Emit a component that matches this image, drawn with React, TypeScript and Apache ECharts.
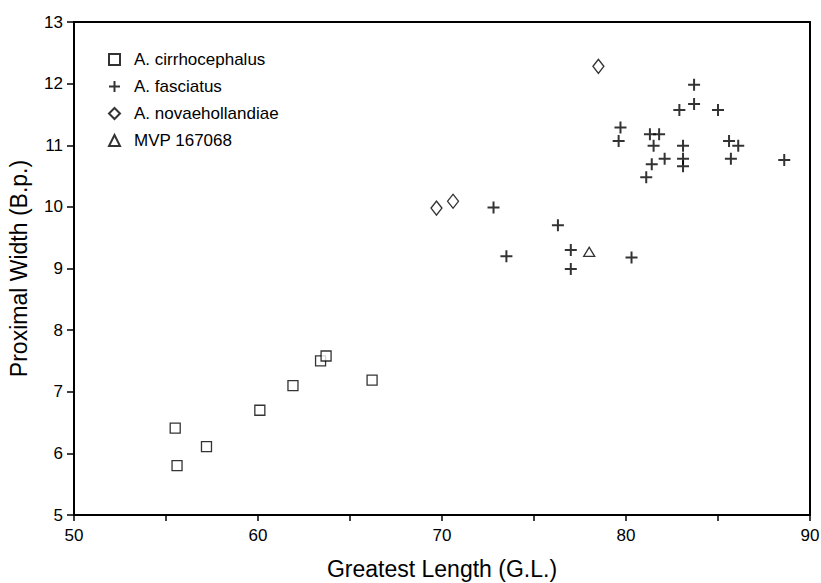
import React, { useEffect, useRef } from "react";
import * as echarts from "echarts";

const xTicks = [50, 55, 60, 65, 70, 75, 80, 85, 90];
const yTicks = [5, 6, 7, 8, 9, 10, 11, 12, 13];

const seriesNames = ["A. cirrhocephalus", "A. fasciatus", "A. novaehollandiae", "MVP 167068"];

const cirrhoX = [55.5, 55.6, 57.2, 60.1, 61.9, 63.4, 63.7, 66.2];
const cirrhoY = [6.41, 5.8, 6.11, 6.7, 7.1, 7.5, 7.58, 7.19];

const fasciatusX = [83.7, 83.7, 82.9, 85.0, 79.7, 79.6, 81.3, 81.8, 81.5, 83.1, 85.6, 86.1, 82.1, 83.1, 83.1, 81.4, 81.1, 85.7, 88.6, 72.8, 76.3, 77.0, 77.0, 73.5, 80.3];
const fasciatusY = [11.98, 11.67, 11.57, 11.57, 11.29, 11.07, 11.18, 11.18, 10.99, 10.99, 11.07, 10.99, 10.78, 10.78, 10.66, 10.69, 10.48, 10.78, 10.76, 9.99, 9.7, 9.3, 8.99, 9.2, 9.18];

const novaeX = [78.5, 69.7, 70.6];
const novaeY = [12.28, 9.98, 10.09];

const mvpX = [78.0];
const mvpY = [9.27];

const zip = (xs: number[], ys: number[]) => xs.map((x, i) => [x, ys[i]]);

const FONT = "Liberation Sans";

export default function App() {
  const ref = useRef<HTMLDivElement>(null);
  useEffect(() => {
    if (!ref.current) return;
    const chart = echarts.init(ref.current, null, { renderer: "svg" });
    const hollow = { color: "#fff", borderColor: "#000", borderWidth: 1.3 };
    chart.setOption({
      animation: false,
      backgroundColor: "#fff",
      grid: {
        left: 74,
        right: 11,
        top: 22,
        bottom: 68,
        containLabel: false,
        outerBoundsMode: "none",
        show: true,
        borderColor: "#000",
        borderWidth: 2,
        backgroundColor: "transparent",
      },
      legend: {
        orient: "vertical",
        left: 108,
        top: 51,
        padding: 0,
        itemGap: 10,
        itemWidth: 11,
        itemHeight: 11,
        selectedMode: false,
        data: seriesNames,
        textStyle: { fontFamily: FONT, fontSize: 17, color: "#000", lineHeight: 16, padding: [0, 0, 0, 9] },
      },
      xAxis: {
        type: "value",
        min: xTicks[0],
        max: xTicks[xTicks.length - 1],
        interval: 5,
        name: "Greatest Length (G.L.)",
        nameLocation: "middle",
        nameGap: 42,
        nameTextStyle: { fontFamily: FONT, fontSize: 23, color: "#000" },
        splitLine: { show: false },
        axisLine: { show: true, onZero: false, lineStyle: { color: "#000", width: 2 } },
        axisTick: { show: true, inside: false, length: 6, lineStyle: { color: "#000", width: 1.5 } },
        axisLabel: {
          margin: 13,
          fontFamily: FONT,
          fontSize: 17,
          lineHeight: 15,
          color: "#000",
          formatter: (v: number) => (v % 10 === 0 ? String(v) : ""),
        },
      },
      yAxis: {
        type: "value",
        min: yTicks[0],
        max: yTicks[yTicks.length - 1],
        interval: 1,
        name: "Proximal Width (B.p.)",
        nameLocation: "middle",
        nameGap: 44,
        nameRotate: 90,
        nameTextStyle: { fontFamily: FONT, fontSize: 23, color: "#000" },
        splitLine: { show: false },
        axisLine: { show: true, onZero: false, lineStyle: { color: "#000", width: 2 } },
        axisTick: { show: true, inside: false, length: 7, lineStyle: { color: "#000", width: 1.5 } },
        axisLabel: { margin: 11, fontFamily: FONT, fontSize: 17, lineHeight: 14, color: "#000" },
      },
      series: [
        {
          name: seriesNames[0],
          type: "scatter",
          symbol: "rect",
          symbolSize: 10,
          itemStyle: hollow,
          data: zip(cirrhoX, cirrhoY),
          silent: true,
        },
        {
          name: seriesNames[1],
          type: "scatter",
          symbol: "path://M0,6H12M6,0V12",
          symbolSize: 12,
          itemStyle: { color: "transparent", borderColor: "#000", borderWidth: 2 },
          data: zip(fasciatusX, fasciatusY),
          silent: true,
        },
        {
          name: seriesNames[2],
          type: "scatter",
          symbol: "diamond",
          symbolSize: [11, 14],
          itemStyle: hollow,
          data: zip(novaeX, novaeY),
          silent: true,
        },
        {
          name: seriesNames[3],
          type: "scatter",
          symbol: "triangle",
          symbolSize: [11, 9],
          itemStyle: hollow,
          data: zip(mvpX, mvpY),
          silent: true,
        },
      ],
    });
    return () => chart.dispose();
  }, []);
  return <div ref={ref} style={{ width: 821, height: 583, position: "absolute", left: 0, top: 0 }} />;
}
